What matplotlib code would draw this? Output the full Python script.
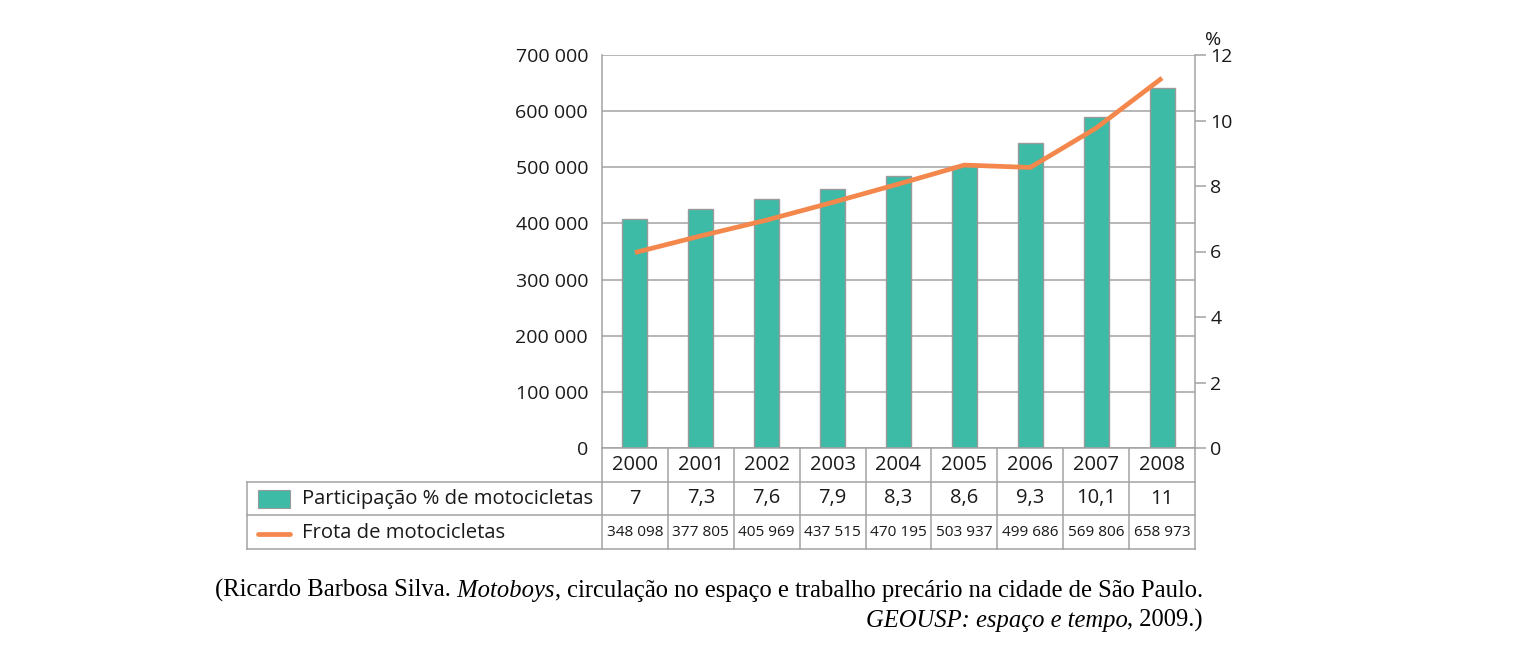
import matplotlib
matplotlib.use("Agg")
import matplotlib.pyplot as plt
from matplotlib.lines import Line2D
from matplotlib.patches import Rectangle

# ---- dados ----
anos = ["2000", "2001", "2002", "2003", "2004", "2005", "2006", "2007", "2008"]
participacao = [7, 7.3, 7.6, 7.9, 8.3, 8.6, 9.3, 10.1, 11]
participacao_txt = ["7", "7,3", "7,6", "7,9", "8,3", "8,6", "9,3", "10,1", "11"]
frota = [348098, 377805, 405969, 437515, 470195, 503937, 499686, 569806, 658973]
frota_txt = ["348 098", "377 805", "405 969", "437 515", "470 195",
             "503 937", "499 686", "569 806", "658 973"]
esq_ticks = [0, 100000, 200000, 300000, 400000, 500000, 600000, 700000]
esq_labels = ["0", "100 000", "200 000", "300 000", "400 000", "500 000", "600 000", "700 000"]
dir_ticks = [0, 2, 4, 6, 8, 10, 12]

VERDE = "#3dbba6"
LARANJA = "#f4874b"
CINZA = "#a3a3a3"
TXT = "#1a1a1a"
plt.rcParams["font.family"] = ["Open Sans", "DejaVu Sans"]

W, H = 1526, 654
fig = plt.figure(figsize=(W / 100, H / 100), dpi=100)


def fx(px):
    return px / W


def fy(py):
    return 1 - py / H


# ---- grafico ----
ax = fig.add_axes([fx(602), fy(448), (1195 - 602) / W, (448 - 55) / H])
ax2 = ax.twinx()
x = list(range(len(anos)))

ax.set_xlim(-0.5, len(anos) - 0.5)
ax.set_ylim(0, 700000)
ax.set_yticks(esq_ticks)
ax.set_yticklabels(esq_labels, fontsize=14)
ax.tick_params(axis="y", length=0, pad=10, colors=TXT)
ax.set_xticks([])
ax.grid(axis="y", color=CINZA, linewidth=1.1)
ax.set_axisbelow(True)
for s in ["top", "bottom", "right"]:
    ax.spines[s].set_visible(False)
ax.spines["left"].set_color(CINZA)
ax.spines["left"].set_linewidth(1.1)

ax2.set_ylim(0, 12)
ax2.set_yticks(dir_ticks)
ax2.tick_params(axis="y", length=8, width=1.1, color=CINZA, labelsize=14,
                labelcolor=TXT, pad=3)
for s in ["top", "bottom", "left"]:
    ax2.spines[s].set_visible(False)
ax2.spines["right"].set_color(CINZA)
ax2.spines["right"].set_linewidth(1.1)
ax2.patch.set_visible(False)

ax2.bar(x, participacao, width=0.38, color=VERDE, edgecolor="#9a9a9a",
        linewidth=1.0, zorder=2)
ax2.plot(x, frota, color=LARANJA, linewidth=3.4, solid_capstyle="butt",
         transform=ax.transData, zorder=3)

ax2.text(1.0 + 10 / 593, 1.016, "%", transform=ax2.transAxes, ha="left", va="bottom",
         fontsize=14, color=TXT)

# ---- tabela ----
tab = fig.add_axes([fx(602), fy(549), (1195 - 602) / W, (549 - 448) / H])
tab.set_xlim(-0.5, len(anos) - 0.5)
tab.set_ylim(3, 0)
tab.axis("off")
esq = -0.5 - (602 - 247) / 65.9  # borda esquerda da coluna da legenda

lk = dict(color=CINZA, linewidth=1.1, clip_on=False)
tab.add_line(Line2D([-0.5, 8.5], [0, 0], **lk))
for yy in [1, 2, 3]:
    tab.add_line(Line2D([esq, 8.5], [yy, yy], **lk))
for i in range(len(anos) + 1):
    tab.add_line(Line2D([i - 0.5, i - 0.5], [0, 3], **lk))
tab.add_line(Line2D([esq, esq], [1, 3], **lk))

for i in x:
    tab.text(i, 0.5, anos[i], ha="center", va="center", fontsize=14.5, color=TXT)
    tab.text(i, 1.5, participacao_txt[i], ha="center", va="center", fontsize=14.5,
             color=TXT)
    tab.text(i, 2.5, frota_txt[i], ha="center", va="center", fontsize=11.1,
             color=TXT)

fig.add_artist(Rectangle((fx(258), fy(508)), (290 - 258) / W, 18 / H,
                         facecolor=VERDE, edgecolor="#9a9a9a", linewidth=0.8))
fig.add_artist(Line2D([fx(258), fx(290)], [fy(534), fy(534)], color=LARANJA,
                      linewidth=3.4, solid_capstyle="round"))
fig.text(fx(302), fy(499), "Participação % de motocicletas", ha="left", va="center",
         fontsize=14.6, color=TXT)
fig.text(fx(302), fy(533), "Frota de motocicletas", ha="left", va="center",
         fontsize=14.6, color=TXT)

# ---- fonte (citacao) ----
SERIF = ["Liberation Serif", "DejaVu Serif"]
cs = 17.75
t3 = fig.text(fx(1203), fy(597), ", circulação no espaço e trabalho precário na cidade de São Paulo.",
              ha="right", va="baseline", fontsize=cs, family=SERIF)
t2 = fig.text(0, 0, " Motoboys", ha="right", va="baseline", fontsize=cs, family=SERIF,
              style="italic")
fig.canvas.draw()
r = fig.canvas.get_renderer()
bb3 = t3.get_window_extent(r)
t2.set_position((bb3.x0 / W, fy(597)))
bb2 = t2.get_window_extent(r)
fig.text(bb2.x0 / W, fy(597), "(Ricardo Barbosa Silva.", ha="right", va="baseline",
         fontsize=cs, family=SERIF)

t5 = fig.text(fx(1203), fy(627), ", 2009.)", ha="right", va="baseline", fontsize=cs,
              family=SERIF)
bb5 = t5.get_window_extent(r)
fig.text(bb5.x0 / W, fy(627), "GEOUSP: espaço e tempo", ha="right", va="baseline",
         fontsize=cs, family=SERIF, style="italic")

fig.savefig("out.png", dpi=100)
